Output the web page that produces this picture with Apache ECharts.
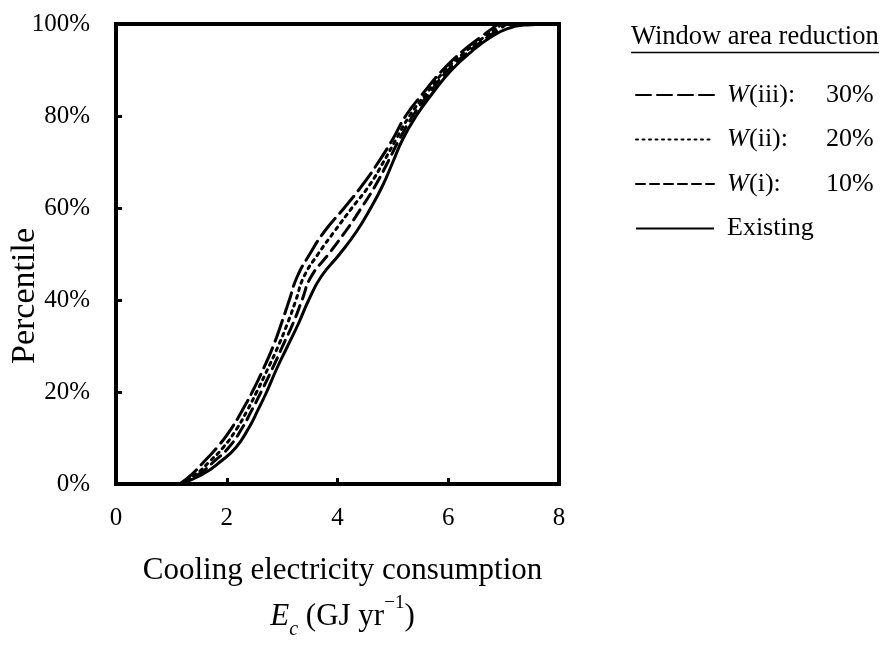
<!DOCTYPE html>
<html>
<head>
<meta charset="utf-8">
<script src="https://cdn.jsdelivr.net/npm/echarts@6/dist/echarts.min.js"></script>
<style>
  html, body { margin: 0; padding: 0; background: #fff; }
  #chart { width: 889px; height: 653px; }
</style>
</head>
<body>
<div id="chart"></div>
<script>
// Cumulative distribution of cooling electricity use (GJ/yr) per window-area case.
const percentiles = [0, 2, 5, 8, 12, 16, 20, 25, 30, 35, 40, 45, 50, 55, 60, 65, 70, 75, 80, 85, 90, 94, 97, 99, 99.8, 100];

const existing = [1.15, 1.55, 1.9, 2.17, 2.39, 2.56, 2.72, 2.9, 3.1, 3.3, 3.48, 3.7, 4.04, 4.35, 4.6, 4.82, 5.0, 5.18, 5.42, 5.72, 6.06, 6.42, 6.75, 7.07, 7.42, 7.9];
const windowI = [1.15, 1.48, 1.78, 2.04, 2.27, 2.45, 2.62, 2.82, 3.01, 3.2, 3.36, 3.52, 3.84, 4.15, 4.43, 4.69, 4.91, 5.12, 5.36, 5.66, 6.0, 6.37, 6.69, 6.94, 7.03, 7.06];
const windowII = [1.15, 1.43, 1.7, 1.94, 2.18, 2.37, 2.54, 2.74, 2.93, 3.1, 3.25, 3.39, 3.65, 3.95, 4.26, 4.58, 4.83, 5.06, 5.3, 5.61, 5.95, 6.31, 6.63, 6.87, 6.95, 6.98];
const windowIII = [1.15, 1.36, 1.6, 1.83, 2.08, 2.28, 2.46, 2.66, 2.84, 2.99, 3.13, 3.27, 3.5, 3.77, 4.12, 4.45, 4.74, 5.0, 5.23, 5.55, 5.9, 6.25, 6.57, 6.79, 6.88, 6.92];

const seriesNames = ['W(iii)', 'W(ii)', 'W(i)', 'Existing'];
const reductionLabels = ['30%', '20%', '10%', ''];
const xTicks = [0, 2, 4, 6, 8];
const yTicks = [0, 20, 40, 60, 80, 100];

const FONT = "'Liberation Serif', 'Times New Roman', serif";

function pairs(xs) {
  return xs.map((x, i) => [x, percentiles[i]]);
}

const curves = [
  { name: seriesNames[0], xs: windowIII, dash: [22, 7], legendDash: [15, 6] },
  { name: seriesNames[1], xs: windowII, dash: [3, 5], legendDash: [2, 4.5] },
  { name: seriesNames[2], xs: windowI, dash: [12, 7], legendDash: [9, 5] },
  { name: seriesNames[3], xs: existing, dash: 'solid', legendDash: 'solid' }
];

const chart = echarts.init(document.getElementById('chart'), null, { renderer: 'canvas' });

const option = {
  animation: false,
  backgroundColor: '#fff',
  textStyle: { fontFamily: FONT, color: '#000' },
  grid: {
    left: 116, right: 330, top: 24, bottom: 169,
    show: true, borderColor: '#000', borderWidth: 4, backgroundColor: 'transparent'
  },
  xAxis: {
    type: 'value',
    min: xTicks[0], max: xTicks[xTicks.length - 1], interval: 2,
    axisLine: { show: false },
    axisTick: { show: true, inside: true, length: 6, lineStyle: { color: '#000', width: 3 } },
    splitLine: { show: false },
    axisLabel: { color: '#000', fontFamily: FONT, fontSize: 25, margin: 22 },
    name: 'Cooling electricity consumption\n{i|E}{sub|c}{t| (GJ yr}{sup|\u22121}{t|)}',
    nameLocation: 'middle',
    nameGap: 64,
    nameTextStyle: {
      fontFamily: FONT, fontSize: 31, color: '#000', lineHeight: 46, padding: [0, 0, 0, 10],
      rich: {
        i: { fontFamily: FONT, fontSize: 31, fontStyle: 'italic', lineHeight: 46, color: '#000' },
        t: { fontFamily: FONT, fontSize: 31, lineHeight: 46, color: '#000' },
        sub: { fontFamily: FONT, fontSize: 20, fontStyle: 'italic', verticalAlign: 'bottom', lineHeight: 32, color: '#000' },
        sup: { fontFamily: FONT, fontSize: 19, verticalAlign: 'top', lineHeight: 26, color: '#000' }
      }
    }
  },
  yAxis: {
    type: 'value',
    min: yTicks[0], max: yTicks[yTicks.length - 1], interval: 20,
    axisLine: { show: false },
    axisTick: { show: true, inside: true, length: 6, lineStyle: { color: '#000', width: 3 } },
    splitLine: { show: false },
    axisLabel: { color: '#000', fontFamily: FONT, fontSize: 25, margin: 26, formatter: '{value}%' }
  },
  legend: {
    orient: 'vertical',
    left: 630,
    top: 77,
    itemWidth: 78,
    itemHeight: 14,
    itemGap: 18.5,
    selectedMode: false,
    data: curves.map(c => ({
      name: c.name,
      itemStyle: { opacity: 0 },
      lineStyle: { type: c.legendDash, width: 2, color: '#000' }
    })),
    formatter: function (name) {
      const idx = seriesNames.indexOf(name);
      if (name === 'Existing') return '{n|Existing}';
      return '{w|W}{n|' + name.slice(1) + ':}{v|' + reductionLabels[idx] + '}';
    },
    textStyle: {
      fontFamily: FONT, fontSize: 26, color: '#000', padding: [0, 0, 0, 8],
      rich: {
        w: { fontFamily: FONT, fontSize: 26, fontStyle: 'italic', width: 22, lineHeight: 30, color: '#000' },
        n: { fontFamily: FONT, fontSize: 26, width: 77, lineHeight: 30, color: '#000' },
        v: { fontFamily: FONT, fontSize: 26, lineHeight: 30, color: '#000' }
      }
    }
  },
  graphic: [
    {
      type: 'text', left: 631, top: 24,
      style: { text: 'Window area reduction', fontFamily: FONT, fontSize: 26.5, fill: '#000' }
    },
    {
      type: 'line',
      shape: { x1: 631, y1: 52.5, x2: 879, y2: 52.5 },
      style: { stroke: '#000', lineWidth: 1.5 }
    },
    {
      type: 'text',
      x: 25, y: 296, rotation: Math.PI / 2,
      style: {
        text: 'Percentile', fontFamily: FONT, fontSize: 34, fill: '#000',
        align: 'center', verticalAlign: 'middle'
      }
    }
  ],
  series: curves.map(c => ({
    name: c.name,
    type: 'line',
    data: pairs(c.xs),
    showSymbol: false,
    symbol: 'none',
    smooth: 0.5,
    clip: true,
    itemStyle: { color: '#000' },
    lineStyle: { color: '#000', width: 3, type: c.dash, cap: c.dash === 'solid' ? 'butt' : 'round' },
    z: c.name === 'Existing' ? 3 : 2
  }))
};

chart.setOption(option);
</script>
</body>
</html>
